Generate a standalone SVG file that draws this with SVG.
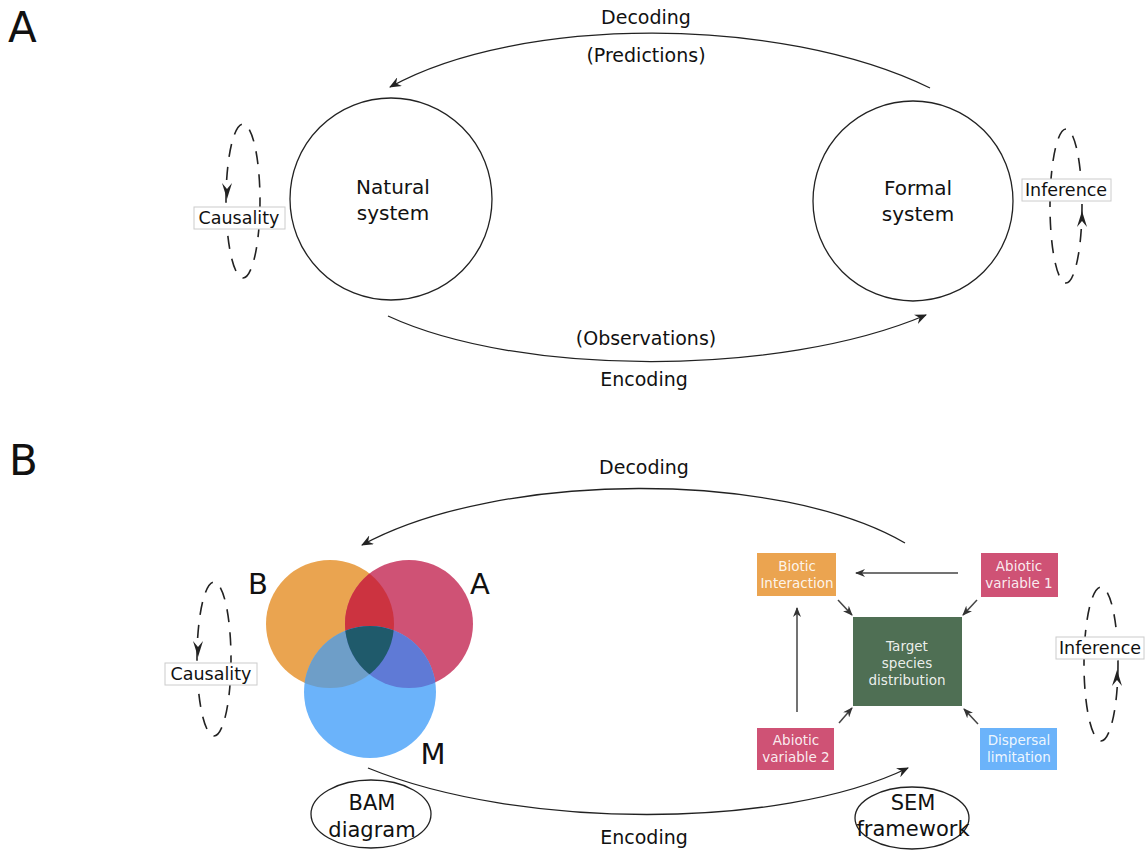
<svg xmlns="http://www.w3.org/2000/svg" width="1145" height="851" viewBox="0 0 1145 851">
<style>
text{font-family:"DejaVu Sans","Liberation Sans",sans-serif;fill:#111;text-anchor:middle}
.panel{font-size:42px;text-anchor:start}
.big{font-size:20px}
.oval{font-size:21px}
.lbl{font-size:17.5px}
.arc{font-size:19px}
.venn{font-size:29px}
.box{font-size:13.5px;fill:#fff;fill-opacity:0.9}
.conn{fill:none;stroke:#222;stroke-width:1.3}
.dash{fill:none;stroke:#222;stroke-width:1.6;stroke-dasharray:13 10}
.tag{fill:#fff;stroke:#ccc;stroke-width:1}
.sem{fill:none;stroke:#444;stroke-width:1.5}
.node{fill:#fff;stroke:#222;stroke-width:1.3}
</style>
<defs>
<marker id="ah" viewBox="0 0 12 10" refX="11" refY="5" markerWidth="12" markerHeight="10" markerUnits="userSpaceOnUse" orient="auto">
<path d="M0,0 L12,5 L0,10 L4,5 z" fill="#222"/>
</marker>
<marker id="sh" viewBox="0 0 10 8" refX="9" refY="4" markerWidth="10" markerHeight="8" markerUnits="userSpaceOnUse" orient="auto">
<path d="M0,0 L10,4 L0,8 L3,4 z" fill="#333"/>
</marker>
<clipPath id="cB"><circle cx="330" cy="624" r="64"/></clipPath>
<clipPath id="cA"><circle cx="409" cy="624" r="64"/></clipPath>
<clipPath id="cM"><circle cx="370" cy="692" r="66"/></clipPath>
</defs>

<text class="panel" x="8" y="42">A</text>
<text class="panel" x="9" y="475">B</text>

<g id="connectors">
<path class="conn" d="M930,88 C780,15 520,15 390,87" marker-end="url(#ah)"/>
<path class="conn" d="M388,316 C520,377 780,377 926,315" marker-end="url(#ah)"/>
<path class="conn" d="M905,543 C780,470 500,470 362,545" marker-end="url(#ah)"/>
<path class="conn" d="M368,768 C520,830 780,830 908,768" marker-end="url(#ah)"/>
<path class="sem" d="M958,573 L856,573" marker-end="url(#sh)"/>
<path class="sem" d="M838,600 L852,615" marker-end="url(#sh)"/>
<path class="sem" d="M977,600 L963,615" marker-end="url(#sh)"/>
<path class="sem" d="M797,712 L797,608" marker-end="url(#sh)"/>
<path class="sem" d="M839,723 L852,708" marker-end="url(#sh)"/>
<path class="sem" d="M978,724 L964,709" marker-end="url(#sh)"/>
</g>

<text class="arc" x="646" y="24">Decoding</text>
<text class="arc" x="646" y="62">(Predictions)</text>
<text class="arc" x="646" y="345">(Observations)</text>
<text class="arc" x="644" y="386">Encoding</text>
<text class="arc" x="644" y="474">Decoding</text>
<text class="arc" x="644" y="844">Encoding</text>

<g id="natural-system">
<circle class="node" cx="391" cy="199" r="101"/>
<text class="big" x="393" y="194">Natural</text>
<text class="big" x="393" y="220">system</text>
</g>
<g id="formal-system">
<circle class="node" cx="913" cy="201" r="100"/>
<text class="big" x="918" y="195">Formal</text>
<text class="big" x="918" y="221">system</text>
</g>

<g id="causality-a">
<ellipse class="dash" cx="243" cy="201" rx="17" ry="77"/>
<path d="M222,183 L227,199 L232,183 L227,189 z" fill="#222"/>
<rect class="tag" x="194" y="207" width="91" height="22"/>
<text class="lbl" x="239" y="224">Causality</text>
</g>
<g id="inference-a">
<ellipse class="dash" cx="1066" cy="206" rx="16" ry="77"/>
<path d="M1077,227 L1082,211 L1087,227 L1082,221 z" fill="#222"/>
<rect class="tag" x="1022" y="179" width="89" height="22"/>
<text class="lbl" x="1066" y="196">Inference</text>
</g>

<g id="bam">
<circle cx="330" cy="624" r="64" fill="#EAA450"/>
<circle cx="409" cy="624" r="64" fill="#CF5275"/>
<circle cx="370" cy="692" r="66" fill="#6BB3FA"/>
<circle cx="409" cy="624" r="64" fill="#CC3340" clip-path="url(#cB)"/>
<circle cx="370" cy="692" r="66" fill="#6E9EC8" clip-path="url(#cB)"/>
<circle cx="370" cy="692" r="66" fill="#5F7AD6" clip-path="url(#cA)"/>
<g clip-path="url(#cB)"><circle cx="409" cy="624" r="64" fill="#1F5A6B" clip-path="url(#cM)"/></g>
<text class="venn" x="258" y="594">B</text>
<text class="venn" x="480" y="594">A</text>
<text class="venn" x="433" y="764">M</text>
</g>

<g id="causality-b">
<ellipse class="dash" cx="214" cy="659" rx="17" ry="77"/>
<path d="M193,641 L198,657 L203,641 L198,647 z" fill="#222"/>
<rect class="tag" x="165" y="663" width="92" height="22"/>
<text class="lbl" x="211" y="680">Causality</text>
</g>
<g id="inference-b">
<ellipse class="dash" cx="1101" cy="664" rx="17" ry="77"/>
<path d="M1112,686 L1117,670 L1122,686 L1117,680 z" fill="#222"/>
<rect class="tag" x="1056" y="637" width="88" height="22"/>
<text class="lbl" x="1100" y="654">Inference</text>
</g>

<g id="biotic-interaction">
<rect x="757" y="553" width="79" height="43" fill="#EBA450"/>
<text class="box" x="797" y="571">Biotic</text>
<text class="box" x="797" y="588">Interaction</text>
</g>
<g id="abiotic-variable-1">
<rect x="981" y="553" width="77" height="44" fill="#CF5275"/>
<text class="box" x="1019" y="571">Abiotic</text>
<text class="box" x="1019" y="588">variable 1</text>
</g>
<g id="target-species">
<rect x="853" y="617" width="109" height="89" fill="#4F6F54"/>
<text class="box" x="907" y="651">Target</text>
<text class="box" x="907" y="668">species</text>
<text class="box" x="907" y="685">distribution</text>
</g>
<g id="abiotic-variable-2">
<rect x="757" y="728" width="77" height="42" fill="#CF5275"/>
<text class="box" x="796" y="745">Abiotic</text>
<text class="box" x="796" y="762">variable 2</text>
</g>
<g id="dispersal-limitation">
<rect x="980" y="728" width="77" height="42" fill="#6BB3FA"/>
<text class="box" x="1019" y="745">Dispersal</text>
<text class="box" x="1019" y="762">limitation</text>
</g>

<g id="bam-diagram">
<ellipse class="node" cx="371" cy="814" rx="60" ry="34"/>
<text class="oval" x="372" y="810">BAM</text>
<text class="oval" x="372" y="837">diagram</text>
</g>
<g id="sem-framework">
<ellipse class="node" cx="912" cy="818" rx="57" ry="31"/>
<text class="oval" x="913" y="810">SEM</text>
<text class="oval" x="913" y="836">framework</text>
</g>
</svg>
